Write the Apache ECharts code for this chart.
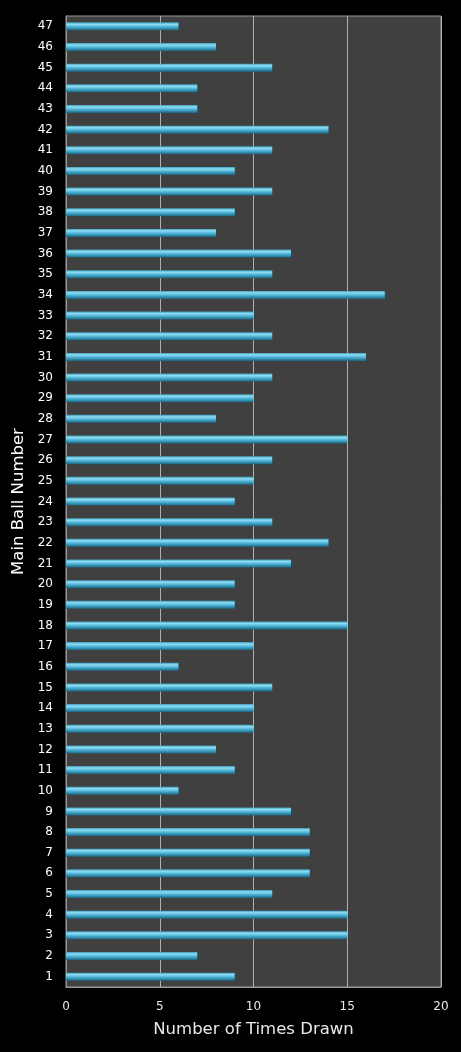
<!DOCTYPE html>
<html>
<head>
<meta charset="utf-8">
<script src="https://cdn.jsdelivr.net/npm/echarts@6/dist/echarts.min.js"></script>
<style>
    html,body{margin:0;padding:0;background:#000;}
    #chart{width:461px;height:1052px;}
</style>
</head>
<body>
<div id="chart"></div>
<script>
// 球号 1..47
var ballNumbers = [];
for (var i = 1; i <= 47; i++) { ballNumbers.push(String(i)); }

// 出现次数
var timesDrawn = [
    9, 7, 15, 15, 11, 13, 13, 13, 12, 6,
    9, 8, 10, 10, 11, 6, 10, 15, 9, 9,
    12, 14, 11, 9, 10, 11, 15, 8, 10, 11,
    16, 11, 10, 17, 11, 12, 8, 9, 11, 9,
    11, 14, 7, 7, 11, 8, 6
];

var xTicks = [0, 5, 10, 15, 20];

var mchart = echarts.init(document.getElementById('chart'));
var option = {
    backgroundColor: '#000',
    textStyle: { fontFamily: 'DejaVu Sans' },
    grid: {
        left: 66,
        right: 20,
        top: 16,
        bottom: 65,
        show: true,
        backgroundColor: '#404040',
        borderColor: '#9a9a9a',
        borderWidth: 1
    },
    xAxis: {
        type: 'value',
        min: xTicks[0],
        max: xTicks[xTicks.length - 1],
        interval: 5,
        name: 'Number of Times Drawn',
        nameLocation: 'middle',
        nameGap: 34,
        nameTextStyle: { color: '#e8e8e8', fontSize: 16.5 },
        axisLine: { show: true, lineStyle: { color: '#9a9a9a' } },
        axisTick: { show: false },
        axisLabel: { color: '#e8e8e8', fontSize: 12, margin: 14 },
        splitLine: { show: true, lineStyle: { color: '#b0b0b0', width: 1 } }
    },
    yAxis: {
        type: 'category',
        data: ballNumbers,
        name: 'Main Ball Number',
        nameLocation: 'middle',
        nameGap: 31,
        nameTextStyle: { color: '#ffffff', fontSize: 16.5 },
        axisLine: { show: true, lineStyle: { color: '#9a9a9a' } },
        axisTick: { show: false },
        axisLabel: { color: '#ffffff', fontSize: 12, margin: 13 },
        splitLine: { show: false }
    },
    series: [
        {
            name: 'Times Drawn',
            type: 'bar',
            data: timesDrawn,
            barWidth: 8,
            itemStyle: {
                color: new echarts.graphic.LinearGradient(0, 0, 0, 1, [
                    { offset: 0, color: '#3f9fbf' },
                    { offset: 0.25, color: '#8fdcf2' },
                    { offset: 0.55, color: '#4db5d8' },
                    { offset: 1, color: '#1d6580' }
                ]),
                shadowBlur: 2,
                shadowOffsetY: 2,
                shadowColor: 'rgba(0, 0, 0, 0.6)'
            },
            silent: true
        }
    ]
};
mchart.setOption(option);
</script>
</body>
</html>
